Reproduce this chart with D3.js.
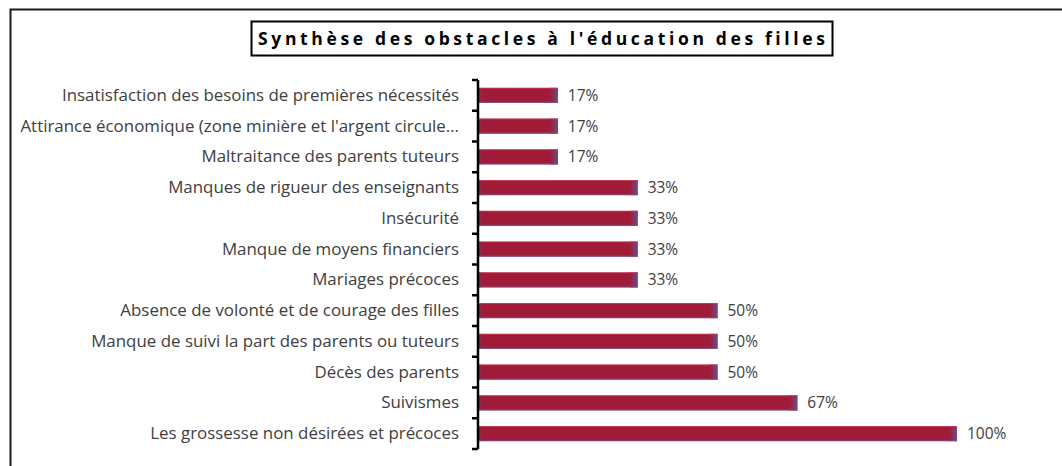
<!DOCTYPE html>
<html>
<head>
<meta charset="utf-8">
<title>Synthèse des obstacles</title>
<script src="https://cdn.jsdelivr.net/npm/d3@7/dist/d3.min.js"></script>
<style>
  body { margin: 0; background: #fff; }
  svg { display: block; }
  text { font-variant-ligatures: none; }
</style>
</head>
<body>
<svg width="1062" height="466" id="mainsvg"></svg>
<script>
    // data, top to bottom as in the chart
    const categories = [
        'Insatisfaction des besoins de premières nécessités',
        "Attirance économique (zone minière et l'argent circule…",
        'Maltraitance des parents tuteurs',
        'Manques de rigueur des enseignants',
        'Insécurité',
        'Manque de moyens financiers',
        'Mariages précoces',
        'Absence de volonté et de courage des filles',
        'Manque de suivi la part des parents ou tuteurs',
        'Décès des parents',
        'Suivismes',
        'Les grossesse non désirées et précoces'
    ];
    const values = [16.67, 16.67, 16.67, 33.33, 33.33, 33.33, 33.33, 50, 50, 50, 66.67, 100];
    const valueLabels = ['17%', '17%', '17%', '33%', '33%', '33%', '33%', '50%', '50%', '50%', '67%', '100%'];
    const title = "Synthèse des obstacles à l'éducation des filles";

    const svg = d3.select('#mainsvg');
    const data = categories.map((c, i) => ({ cat: c, value: values[i], label: valueLabels[i] }));
    const font = '"Open Sans", sans-serif';

    const axisX = 478;
    const xScale = d3.scaleLinear().domain([0, 100]).range([axisX, 957]);
    const yScale = d3.scaleBand().domain(categories).range([80, 449]).paddingInner(0.51).paddingOuter(0.255);

    // outer frame (runs off right and bottom)
    svg.append('rect')
        .attr('x', 10.5).attr('y', 9.5)
        .attr('width', 1100).attr('height', 500)
        .attr('fill', 'none')
        .attr('stroke', '#1a1a1a')
        .attr('stroke-width', 2);

    // title box
    svg.append('rect')
        .attr('x', 251.5).attr('y', 21.5)
        .attr('width', 581).attr('height', 34)
        .attr('fill', '#fff')
        .attr('stroke', '#000')
        .attr('stroke-width', 2);
    svg.append('text')
        .attr('x', 258).attr('y', 45)
        .attr('textLength', 567)
        .attr('lengthAdjust', 'spacing')
        .attr('font-family', font)
        .attr('font-weight', 'bold')
        .attr('font-size', '17.5px')
        .attr('fill', '#000')
        .text(title);

    // gradient for the purple-ish right end of each bar
    const defs = svg.append('defs');
    const grad = defs.append('linearGradient').attr('id', 'barEnd')
        .attr('x1', '0').attr('y1', '0').attr('x2', '1').attr('y2', '0');
    [['0%', '#9f1b37'], ['100%', '#6e4a8c']]
        .forEach(s => grad.append('stop').attr('offset', s[0]).attr('stop-color', s[1]));
    const vgrad = defs.append('linearGradient').attr('id', 'barEdge')
        .attr('x1', '0').attr('y1', '0').attr('x2', '0').attr('y2', '1');
    [['0%', '#e05060', 0.9], ['12%', '#a01b36', 0], ['85%', '#a01b36', 0], ['100%', '#6a6ab0', 0.9]]
        .forEach(s => vgrad.append('stop').attr('offset', s[0]).attr('stop-color', s[1]).attr('stop-opacity', s[2]));

    const bars = svg.append('g').attr('id', 'bars');
    bars.selectAll('.bar').data(data)
        .join('rect')
        .attr('class', 'bar')
        .attr('x', xScale(0))
        .attr('y', d => yScale(d.cat))
        .attr('width', d => xScale(d.value) - xScale(0))
        .attr('height', yScale.bandwidth())
        .attr('fill', '#9f1b37');
    bars.selectAll('.bar-end').data(data)
        .join('rect')
        .attr('class', 'bar-end')
        .attr('x', d => xScale(d.value) - 8)
        .attr('y', d => yScale(d.cat))
        .attr('width', 8)
        .attr('height', yScale.bandwidth())
        .attr('fill', 'url(#barEnd)');
    bars.selectAll('.bar-start').data(data)
        .join('rect')
        .attr('class', 'bar-start')
        .attr('x', xScale(0))
        .attr('y', d => yScale(d.cat))
        .attr('width', 4)
        .attr('height', yScale.bandwidth())
        .attr('fill', '#8a2a5a')
        .attr('opacity', 0.6);
    bars.selectAll('.bar-edge').data(data)
        .join('rect')
        .attr('class', 'bar-edge')
        .attr('x', xScale(0))
        .attr('y', d => yScale(d.cat))
        .attr('width', d => xScale(d.value) - xScale(0))
        .attr('height', yScale.bandwidth())
        .attr('fill', 'url(#barEdge)');

    // value labels
    svg.append('g').selectAll('text').data(data)
        .join('text')
        .attr('x', d => xScale(d.value) + 10)
        .attr('y', d => yScale(d.cat) + yScale.bandwidth() / 2)
        .attr('dy', '0.35em')
        .attr('font-family', font)
        .attr('font-size', '15.5px')
        .attr('fill', '#404040')
        .text(d => d.label);

    // category axis
    const yAxis = d3.axisLeft(yScale).tickSize(0).tickPadding(19);
    const yAxisG = svg.append('g')
        .attr('transform', `translate(${axisX}, 0)`)
        .call(yAxis);
    yAxisG.select('.domain').remove();
    yAxisG.selectAll('.tick text')
        .attr('font-family', font)
        .attr('font-size', '16.9px')
        .attr('fill', '#404040');

    // axis line + boundary ticks
    const [y0, y1] = yScale.range();
    const bounds = d3.range(categories.length + 1).map(i => y0 + i * yScale.step());
    svg.append('line')
        .attr('x1', axisX).attr('x2', axisX)
        .attr('y1', y0).attr('y2', y1)
        .attr('stroke', '#000').attr('stroke-width', 2.5);
    svg.append('g').selectAll('line').data(bounds)
        .join('line')
        .attr('x1', axisX - 6).attr('x2', axisX)
        .attr('y1', d => d).attr('y2', d => d)
        .attr('stroke', '#000').attr('stroke-width', 2.5);
</script>
</body>
</html>
